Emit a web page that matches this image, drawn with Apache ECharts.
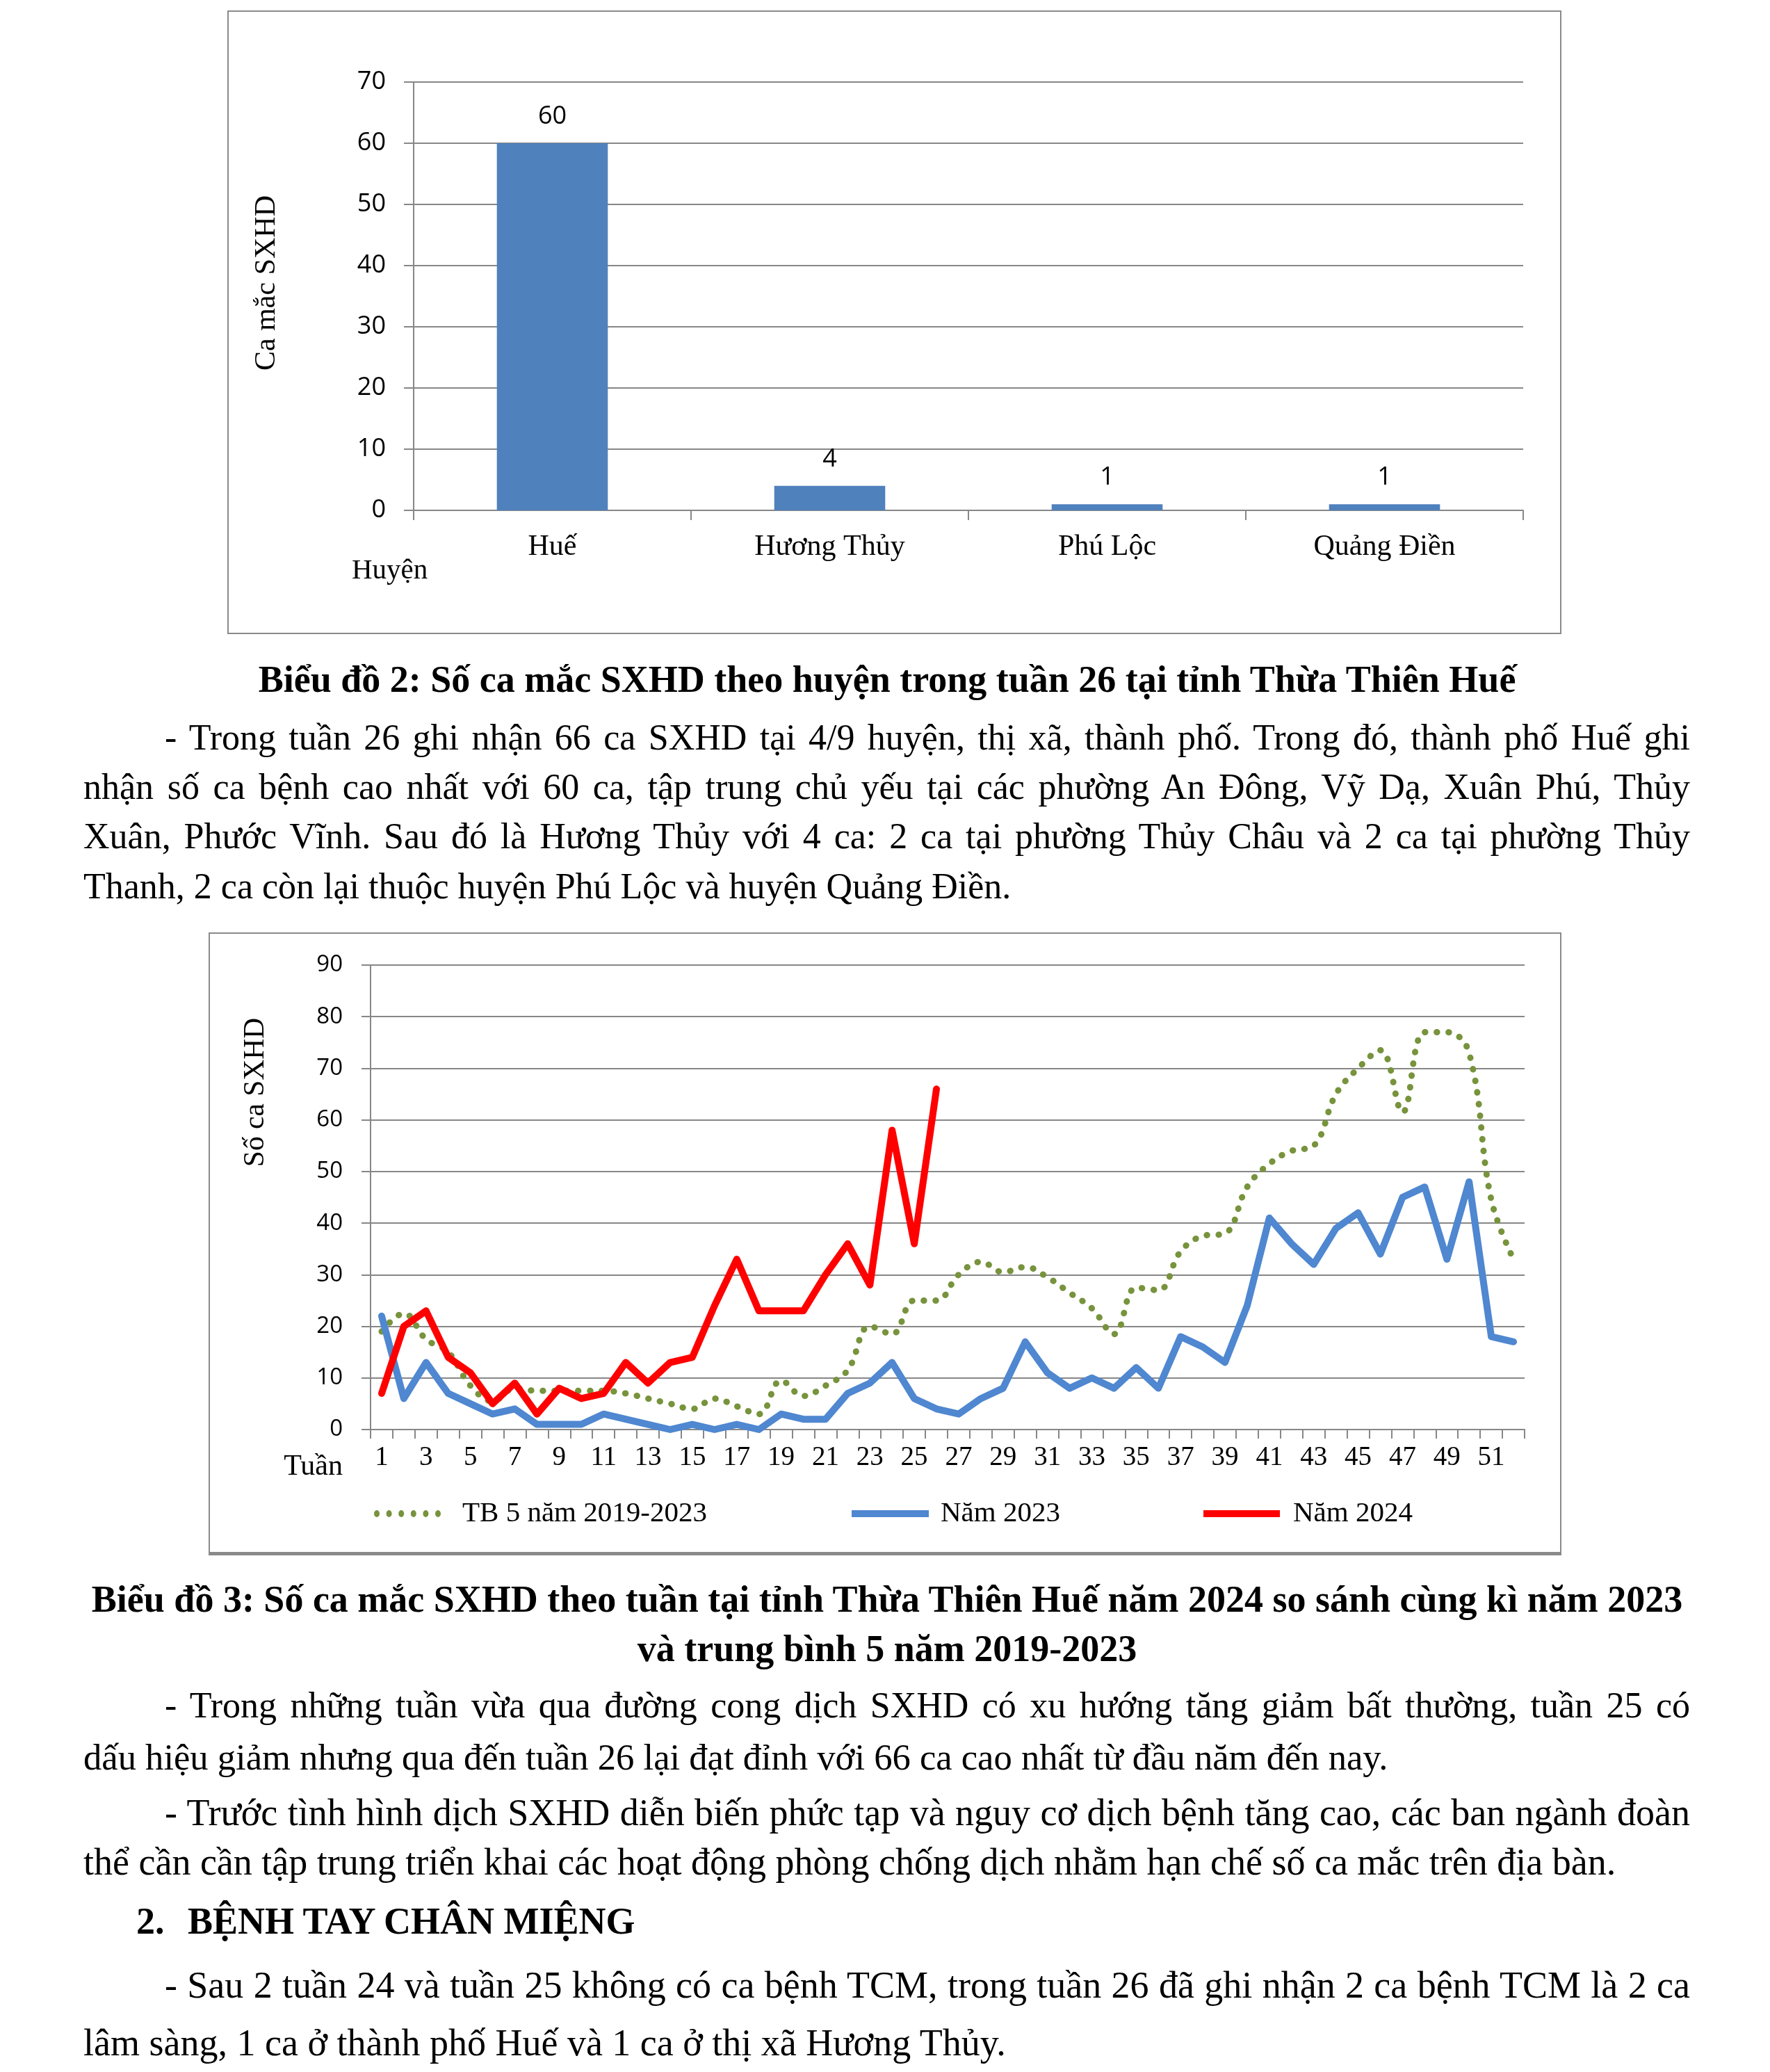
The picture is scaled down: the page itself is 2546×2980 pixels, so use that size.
<!DOCTYPE html>
<html><head><meta charset="utf-8">
<script src="https://cdn.jsdelivr.net/npm/echarts@6.0.0/dist/echarts.min.js"></script>
<style>
html,body{margin:0;padding:0;background:#fff;}
#page{position:relative;width:2546px;height:2980px;overflow:hidden;background:#fff;font-family:'Liberation Serif','Times New Roman',serif;color:#000;}
.box{position:absolute;box-sizing:border-box;border:2px solid #8a8a8a;pointer-events:none;}
.chart{position:absolute;}
.ln{position:absolute;font-size:52px;line-height:52px;white-space:pre;}
.big{font-size:54px;}
.b{font-weight:bold;font-size:54px;}
.c{left:120px;width:2312px;text-align:center;}
</style></head>
<body>
<div id="page">
  <div id="c1" class="chart" style="left:327px;top:15px;width:1919px;height:897px;"></div>
  <div class="box" style="left:327px;top:15px;width:1919px;height:897px;"></div>

  <div class="ln b c" style="top:951px;">Biểu đồ 2: Số ca mắc SXHD theo huyện trong tuần 26 tại tỉnh Thừa Thiên Huế</div>
  <span class="ln j" data-w="2194" style="left:237px;top:1035px;">- Trong tuần 26 ghi nhận 66 ca SXHD tại 4/9 huyện, thị xã, thành phố. Trong đó, thành phố Huế ghi</span>
  <span class="ln j" data-w="2311" style="left:120px;top:1106px;">nhận số ca bệnh cao nhất với 60 ca, tập trung chủ yếu tại các phường An Đông, Vỹ Dạ, Xuân Phú, Thủy</span>
  <span class="ln j" data-w="2311" style="left:120px;top:1177px;">Xuân, Phước Vĩnh. Sau đó là Hương Thủy với 4 ca: 2 ca tại phường Thủy Châu và 2 ca tại phường Thủy</span>
  <span class="ln" style="left:120px;top:1249px;">Thanh, 2 ca còn lại thuộc huyện Phú Lộc và huyện Quảng Điền.</span>

  <div id="c2" class="chart" style="left:300px;top:1341px;width:1946px;height:896px;"></div>
  <div class="box" style="left:300px;top:1341px;width:1946px;height:896px;border-bottom-width:5px;"></div>

  <div class="ln b c" style="top:2274px;">Biểu đồ 3: Số ca mắc SXHD theo tuần tại tỉnh Thừa Thiên Huế năm 2024 so sánh cùng kì năm 2023</div>
  <div class="ln b c" style="top:2345px;">và trung bình 5 năm 2019-2023</div>
  <span class="ln j" data-w="2194" style="left:237px;top:2427px;">- Trong những tuần vừa qua đường cong dịch SXHD có xu hướng tăng giảm bất thường, tuần 25 có</span>
  <span class="ln" style="left:120px;top:2501px;font-size:52.6px;">dấu hiệu giảm nhưng qua đến tuần 26 lại đạt đỉnh với 66 ca cao nhất từ đầu năm đến nay.</span>
  <span class="ln j big" data-w="2194" style="left:237px;top:2581px;">- Trước tình hình dịch SXHD diễn biến phức tạp và nguy cơ dịch bệnh tăng cao, các ban ngành đoàn</span>
  <span class="ln big" style="left:120px;top:2652px;">thể cần cần tập trung triển khai các hoạt động phòng chống dịch nhằm hạn chế số ca mắc trên địa bàn.</span>
  <span class="ln b" style="left:196px;top:2737px;">2.</span>
  <span class="ln b" style="left:270px;top:2737px;">BỆNH TAY CHÂN MIỆNG</span>
  <span class="ln j big" data-w="2194" style="left:237px;top:2829px;">- Sau 2 tuần 24 và tuần 25 không có ca bệnh TCM, trong tuần 26 đã ghi nhận 2 ca bệnh TCM là 2 ca</span>
  <span class="ln big" style="left:120px;top:2912px;">lâm sàng, 1 ca ở thành phố Huế và 1 ca ở thị xã Hương Thủy.</span>
</div>
<script>
// ---- Chart 1 data ----
const districts = ['Huế', 'Hương Thủy', 'Phú Lộc', 'Quảng Điền'];
const districtCases = [60, 4, 1, 1];
const chart1YTitle = 'Ca mắc SXHD';
const chart1XTitle = 'Huyện';

// ---- Chart 2 data ----
const weeks = ['1','2','3','4','5','6','7','8','9','10','11','12','13','14','15','16','17','18','19','20','21','22','23','24','25','26','27','28','29','30','31','32','33','34','35','36','37','38','39','40','41','42','43','44','45','46','47','48','49','50','51','52'];
const avg5y = [19,22.5,17.5,15,8.5,5.5,8,7.5,7.5,7.5,7.5,7,6,5,4,6,4.5,3,9.5,6.5,8.5,11.5,20,18.5,25,25,30,32.5,30.5,31.5,29.5,26.5,23.5,18.5,27.5,27,34.5,37.5,38,47,51.5,54,55,65,70,73.5,61.5,77,77,73,44.5,33];
const year2023 = [22,6,13,7,5,3,4,1,1,1,3,2,1,0,1,0,1,0,3,2,2,7,9,13,6,4,3,6,8,17,11,8,10,8,12,8,18,16,13,24,41,36,32,39,42,34,45,47,33,48,18,17];
const year2024 = [7,20,23,14,11,5,9,3,8,6,7,13,9,13,14,24,33,23,23,23,30,36,28,58,36,66];
const seriesNames = ['TB 5 năm 2019-2023', 'Năm 2023', 'Năm 2024'];
const chart2YTitle = 'Số ca SXHD';
const chart2XTitle = 'Tuần';

const SERIF = '"Liberation Serif", "Times New Roman", serif';
const SANS = '"Open Sans", "Liberation Sans", sans-serif';
const GRID = '#878787';
const GREEN = '#77933C', BLUE = '#4F87D0', RED = '#FF0000';

const c1 = echarts.init(document.getElementById('c1'), null, {renderer: 'canvas'});
c1.setOption({
  animation: false,
  grid: {left: 268, right: 55, top: 103, bottom: 178, containLabel: false, outerBoundsMode: 'none'},
  xAxis: {
    type: 'category', data: districts,
    axisLine: {show: true, lineStyle: {color: GRID, width: 2}},
    axisTick: {show: true, length: 14, lineStyle: {color: GRID, width: 2}},
    axisLabel: {fontFamily: SERIF, fontSize: 42, color: '#000', margin: 32}
  },
  yAxis: {
    type: 'value', min: 0, max: 70, interval: 10,
    axisLine: {show: true, lineStyle: {color: GRID, width: 2}},
    axisTick: {show: true, length: 14, lineStyle: {color: GRID, width: 2}},
    axisLabel: {fontFamily: SANS, fontSize: 36, color: '#000', margin: 40},
    splitLine: {show: true, lineStyle: {color: GRID, width: 2}}
  },
  series: [{
    type: 'bar', data: districtCases, barCategoryGap: '60%',
    itemStyle: {color: '#4F81BD'},
    label: {show: true, position: 'top', distance: 20, fontFamily: SANS, fontSize: 36, color: '#000'}
  }],
  graphic: [
    {type: 'text', x: 57, y: 392, rotation: Math.PI / 2,
     style: {text: chart1YTitle, fontFamily: SERIF, fontSize: 42, fill: '#000', align: 'center', verticalAlign: 'middle', textAlign: 'center', textVerticalAlign: 'middle'}},
    {type: 'text', x: 179, y: 806,
     style: {text: chart1XTitle, fontFamily: SERIF, fontSize: 41, fill: '#000', align: 'left', verticalAlign: 'middle', textAlign: 'left', textVerticalAlign: 'middle'}}
  ]
});

const c2 = echarts.init(document.getElementById('c2'), null, {renderer: 'canvas'});
const DOTS_ICON = 'path://M0,5a4,5 0 1,0 8,0a4,5 0 1,0 -8,0M17.6,5a4,5 0 1,0 8,0a4,5 0 1,0 -8,0M35.2,5a4,5 0 1,0 8,0a4,5 0 1,0 -8,0M52.8,5a4,5 0 1,0 8,0a4,5 0 1,0 -8,0M70.4,5a4,5 0 1,0 8,0a4,5 0 1,0 -8,0M88,5a4,5 0 1,0 8,0a4,5 0 1,0 -8,0';
function legendAt(name, left, iconW, iconH, icon, pad) {
  return {
    data: [name], left: left, top: 811, padding: 0, itemWidth: iconW, itemHeight: iconH, icon: icon,
    textStyle: {fontFamily: SERIF, fontSize: 41, color: '#000', lineHeight: 50, padding: [0, 0, 0, pad]},
    selectedMode: false
  };
}
c2.setOption({
  animation: false,
  grid: {left: 233, right: 53, top: 47, bottom: 181, containLabel: false, outerBoundsMode: 'none'},
  legend: [
    legendAt(seriesNames[0], 238, 96, 11, DOTS_ICON, 26),
    legendAt(seriesNames[1], 925, 111, 10, 'rect', 12),
    legendAt(seriesNames[2], 1431, 110, 10, 'rect', 14)
  ],
  xAxis: {
    type: 'category', data: weeks, boundaryGap: true,
    axisLine: {show: true, lineStyle: {color: GRID, width: 2}},
    axisTick: {show: true, interval: 0, length: 13, lineStyle: {color: GRID, width: 2}},
    axisLabel: {interval: 1, fontFamily: SERIF, fontSize: 39, color: '#000', margin: 21}
  },
  yAxis: {
    type: 'value', min: 0, max: 90, interval: 10,
    axisLine: {show: true, lineStyle: {color: GRID, width: 2}},
    axisTick: {show: true, length: 13, lineStyle: {color: GRID, width: 2}},
    axisLabel: {fontFamily: SANS, fontSize: 33, color: '#000', margin: 40},
    splitLine: {show: true, lineStyle: {color: GRID, width: 2}}
  },
  series: [
    {name: seriesNames[0], type: 'line', data: avg5y, smooth: 0.4, symbol: 'none',
     itemStyle: {color: GREEN},
     lineStyle: {color: GREEN, width: 9, type: [0.5, 16.5], cap: 'round'}},
    {name: seriesNames[1], type: 'line', data: year2023, symbol: 'none',
     itemStyle: {color: BLUE},
     lineStyle: {color: BLUE, width: 10, join: 'round', cap: 'round'}},
    {name: seriesNames[2], type: 'line', data: year2024, symbol: 'none',
     itemStyle: {color: RED},
     lineStyle: {color: RED, width: 10, join: 'round', cap: 'round'}}
  ],
  graphic: [
    {type: 'text', x: 68, y: 230, rotation: Math.PI / 2,
     style: {text: chart2YTitle, fontFamily: SERIF, fontSize: 41.5, fill: '#000', align: 'center', verticalAlign: 'middle', textAlign: 'center', textVerticalAlign: 'middle'}},
    {type: 'text', x: 193, y: 769,
     style: {text: chart2XTitle, fontFamily: SERIF, fontSize: 42, fill: '#000', align: 'right', verticalAlign: 'middle', textAlign: 'right', textVerticalAlign: 'middle'}}
  ]
});

function justify() {
  document.querySelectorAll('.j').forEach(function (el) {
    el.style.wordSpacing = '0px';
    const target = parseFloat(el.dataset.w);
    const nat = el.getBoundingClientRect().width;
    const n = (el.textContent.match(/ /g) || []).length;
    if (n) el.style.wordSpacing = ((target - nat) / n) + 'px';
  });
}
justify();
if (document.fonts && document.fonts.ready) document.fonts.ready.then(justify);
</script>
</body></html>
